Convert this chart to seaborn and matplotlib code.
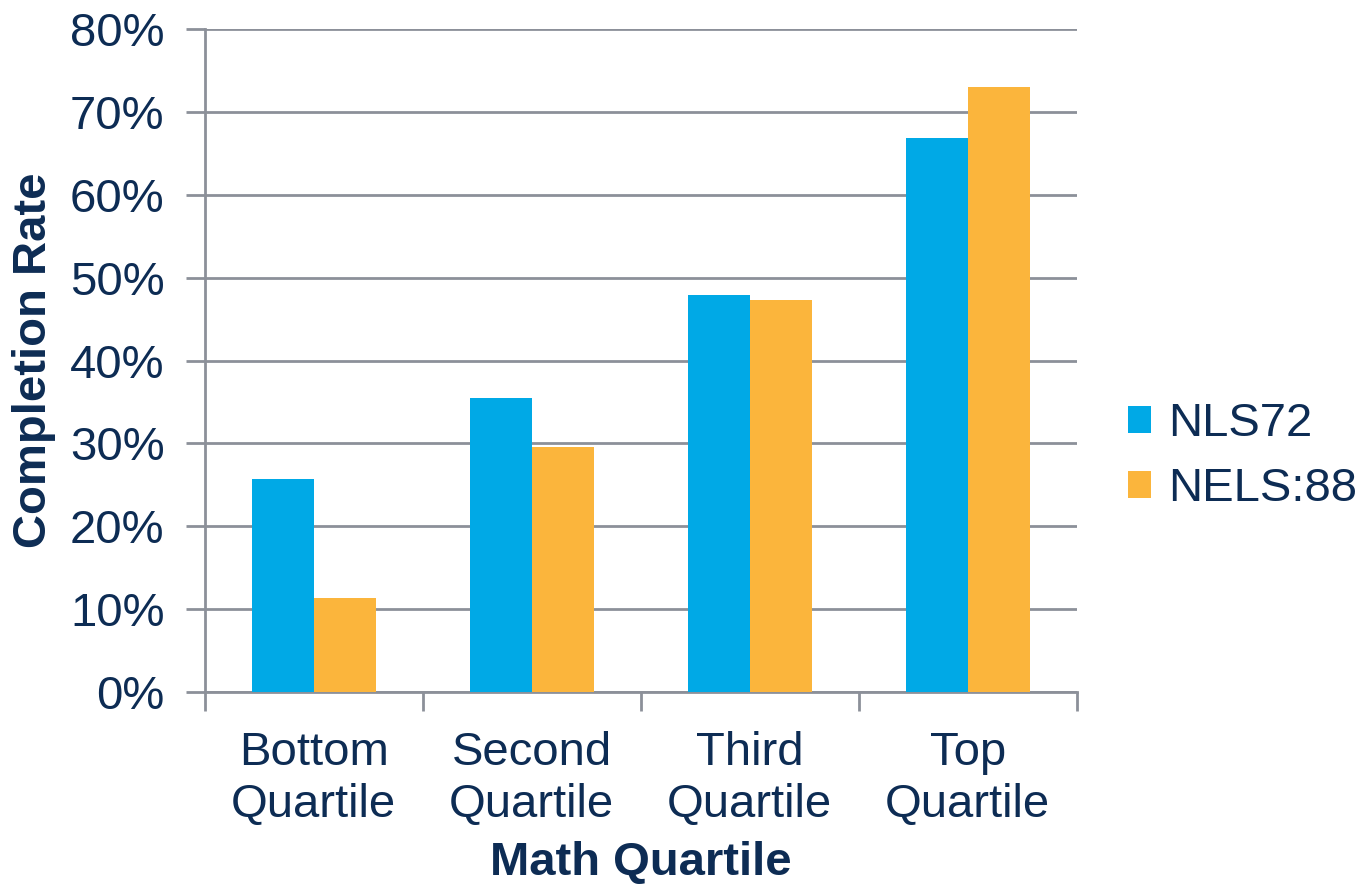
import seaborn as sns
import pandas as pd
from matplotlib import pyplot as plt
from matplotlib.ticker import PercentFormatter

quartiles = ["Bottom\nQuartile", "Second\nQuartile", "Third\nQuartile", "Top\nQuartile"]
nls72 = [25.7, 35.5, 47.9, 66.8]
nels88 = [11.3, 29.6, 47.3, 73.0]
yticks = [0, 10, 20, 30, 40, 50, 60, 70, 80]

navy = "#0D2C54"
grid = "#8C9099"

df = pd.DataFrame({
    "quartile": quartiles * 2,
    "rate": nls72 + nels88,
    "survey": ["NLS72"] * 4 + ["NELS:88"] * 4,
})

sns.set_style("white")
plt.rcParams["font.family"] = ["Liberation Sans", "DejaVu Sans"]

fig = plt.figure(figsize=(13.56, 8.88), dpi=100)
ax = fig.add_axes([0.151, 0.2207, 0.643, 0.7466])

sns.barplot(data=df, x="quartile", y="rate", hue="survey",
            palette=["#00A9E6", "#FBB53C"], width=0.57, saturation=1,
            linewidth=0, ax=ax, zorder=3)

ax.set_ylim(0, 80)
ax.set_xlim(-0.5, 3.5)
ax.set_yticks(yticks)
ax.yaxis.set_major_formatter(PercentFormatter(decimals=0))
ax.yaxis.grid(True, color=grid, linewidth=2, zorder=0)

# category boundary ticks on x axis
ax.set_xticks([-0.5, 0.5, 1.5, 2.5, 3.5], minor=True)
ax.tick_params(axis="x", which="minor", length=14, width=2, color=grid, direction="out", bottom=True)
ax.tick_params(axis="x", which="major", length=0, labelsize=34, labelcolor=navy, pad=28)
ax.tick_params(axis="y", length=14, width=2, color=grid, direction="out", left=True,
               labelsize=34, labelcolor=navy, pad=15)
for lbl in ax.get_xticklabels():
    lbl.set_linespacing(1.25)

for side in ["top", "right"]:
    ax.spines[side].set_visible(False)
for side in ["left", "bottom"]:
    ax.spines[side].set_color(grid)
    ax.spines[side].set_linewidth(2)

ax.set_xlabel("Math Quartile", fontsize=34, fontweight="bold", color=navy, labelpad=10)
ax.set_ylabel("Completion Rate", fontsize=34, fontweight="bold", color=navy, labelpad=10)

leg = ax.legend(loc="center left", bbox_to_anchor=(1.01, 0.355), frameon=False,
                fontsize=34, handlelength=0.5, handleheight=0.5, handletextpad=0.35,
                labelspacing=0.45)
for t in leg.get_texts():
    t.set_color(navy)

plt.savefig("out.png", dpi=100)
